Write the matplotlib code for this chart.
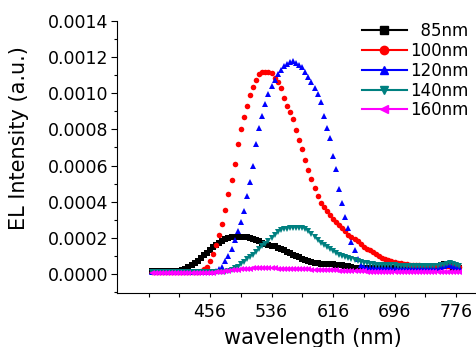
import numpy as np
import matplotlib
matplotlib.use("Agg")
import matplotlib.pyplot as plt
from matplotlib.lines import Line2D
from matplotlib.ticker import FixedLocator, MultipleLocator, FormatStrFormatter

# wavelength grid (nm), one point every 4 nm
wavelength = np.arange(380, 781, 4)

# EL intensity, in units of 1e-4 a.u.
int_85 = ([0.15, 0.15, 0.15, 0.15, 0.15, 0.15, 0.15, 0.16, 0.17, 0.18] +
          [0.2, 0.28, 0.38, 0.48, 0.6, 0.74, 0.88, 1.02, 1.18, 1.32] +
          [1.47, 1.6, 1.72, 1.82, 1.91, 1.97, 2.02, 2.05, 2.07, 2.07] +
          [2.06, 2.03, 1.98, 1.92, 1.86, 1.8, 1.73, 1.67, 1.62, 1.57] +
          [1.52, 1.46, 1.39, 1.31, 1.23, 1.15, 1.07, 0.99, 0.91, 0.84] +
          [0.77, 0.71, 0.65, 0.61, 0.58, 0.56, 0.55, 0.55, 0.55, 0.54] +
          [0.52, 0.5, 0.47, 0.44, 0.41, 0.38, 0.35, 0.33, 0.32, 0.31] +
          [0.3, 0.3, 0.3, 0.3, 0.3, 0.3, 0.3, 0.3, 0.3, 0.3] +
          [0.3, 0.3, 0.3, 0.3, 0.3, 0.3, 0.3, 0.3, 0.3, 0.31] +
          [0.32, 0.33, 0.36, 0.42, 0.5, 0.56, 0.52, 0.42, 0.34, 0.3] +
          [0.3])

int_100 = ([0.1, 0.1, 0.1, 0.1, 0.1, 0.1, 0.1, 0.1, 0.1, 0.1] +
           [0.1, 0.1, 0.1, 0.1, 0.1, 0.1, 0.15, 0.25, 0.4, 0.7] +
           [1.1, 1.6, 2.15, 2.75, 3.55, 4.4, 5.2, 6.1, 7.2, 8.0] +
           [8.7, 9.3, 9.9, 10.35, 10.75, 11.05, 11.2, 11.2, 11.15, 11.1] +
           [10.85, 10.6, 10.3, 9.75, 9.3, 8.95, 8.55, 7.95, 7.4, 6.9] +
           [6.3, 5.75, 5.25, 4.75, 4.3, 3.95, 3.7, 3.5, 3.25, 3.05] +
           [2.85, 2.7, 2.55, 2.35, 2.15, 2.05, 1.95, 1.8, 1.65, 1.5] +
           [1.4, 1.3, 1.2, 1.08, 0.98, 0.9, 0.82, 0.75, 0.7, 0.66] +
           [0.62, 0.58, 0.55, 0.53, 0.51, 0.5, 0.48, 0.47, 0.46, 0.45] +
           [0.44, 0.44, 0.43, 0.42, 0.42, 0.42, 0.42, 0.42, 0.42, 0.4] +
           [0.4])

int_120 = ([0.1, 0.1, 0.1, 0.1, 0.1, 0.1, 0.1, 0.1, 0.1, 0.1] +
           [0.1, 0.1, 0.1, 0.1, 0.1, 0.1, 0.1, 0.1, 0.1, 0.1] +
           [0.1, 0.15, 0.25, 0.4, 0.7, 1.0, 1.4, 1.9, 2.4, 2.9] +
           [3.5, 4.3, 5.1, 6.0, 7.2, 8.1, 8.75, 9.4, 9.95, 10.4] +
           [10.75, 11.05, 11.3, 11.5, 11.62, 11.72, 11.76, 11.7, 11.58, 11.43] +
           [11.2, 10.9, 10.6, 10.3, 9.95, 9.5, 8.75, 8.1, 7.5, 6.5] +
           [5.8, 4.7, 3.9, 3.15, 2.55, 1.75, 1.3, 0.85, 0.5, 0.4] +
           [0.35, 0.3, 0.3, 0.3, 0.3, 0.3, 0.3, 0.3, 0.3, 0.3] +
           [0.3, 0.3, 0.3, 0.3, 0.3, 0.3, 0.3, 0.3, 0.3, 0.3] +
           [0.3, 0.3, 0.32, 0.35, 0.4, 0.45, 0.5, 0.5, 0.45, 0.4] +
           [0.4])

int_140 = ([0.1, 0.1, 0.1, 0.1, 0.1, 0.1, 0.1, 0.1, 0.1, 0.1] +
           [0.1, 0.1, 0.1, 0.1, 0.1, 0.1, 0.1, 0.1, 0.1, 0.1] +
           [0.1, 0.1, 0.1, 0.1, 0.1, 0.15, 0.22, 0.3, 0.4, 0.55] +
           [0.68, 0.8, 0.92, 1.05, 1.2, 1.36, 1.52, 1.68, 1.84, 2.0] +
           [2.15, 2.3, 2.42, 2.48, 2.51, 2.53, 2.53, 2.53, 2.53, 2.52] +
           [2.47, 2.35, 2.2, 2.04, 1.88, 1.73, 1.6, 1.48, 1.36, 1.25] +
           [1.15, 1.07, 1.0, 0.93, 0.86, 0.8, 0.75, 0.7, 0.65, 0.61] +
           [0.58, 0.56, 0.54, 0.52, 0.5, 0.5, 0.5, 0.49, 0.48, 0.47] +
           [0.46, 0.45, 0.45, 0.44, 0.43, 0.42, 0.42, 0.42, 0.41, 0.41] +
           [0.41, 0.41, 0.42, 0.44, 0.48, 0.52, 0.57, 0.6, 0.57, 0.5] +
           [0.45])

int_160 = ([0.05, 0.05, 0.05, 0.05, 0.05, 0.05, 0.05, 0.05, 0.05, 0.05] +
           [0.05, 0.05, 0.05, 0.05, 0.05, 0.05, 0.05, 0.05, 0.05, 0.05] +
           [0.06, 0.08, 0.1, 0.12, 0.15, 0.17, 0.2, 0.22, 0.24, 0.26] +
           [0.27, 0.28, 0.29, 0.3, 0.3, 0.3, 0.3, 0.3, 0.3, 0.3] +
           [0.3, 0.29, 0.29, 0.28, 0.28, 0.28, 0.27, 0.27, 0.26, 0.26] +
           [0.25, 0.25, 0.24, 0.24, 0.23, 0.22, 0.22, 0.21, 0.2, 0.2] +
           [0.19, 0.18, 0.18, 0.17, 0.16, 0.16, 0.15, 0.15, 0.14, 0.14] +
           [0.13, 0.13, 0.12, 0.12, 0.11, 0.11, 0.1, 0.1, 0.1, 0.09] +
           [0.09, 0.08, 0.08, 0.08, 0.08, 0.08, 0.08, 0.08, 0.08, 0.08] +
           [0.08, 0.08, 0.08, 0.08, 0.08, 0.08, 0.08, 0.08, 0.08, 0.08] +
           [0.08])

labels = ["  85nm", "100nm", "120nm", "140nm", "160nm"]
series = [int_85, int_100, int_120, int_140, int_160]
colors = ["#000000", "#ff0000", "#0000ff", "#008080", "#ff00ff"]
markers = ["s", "o", "^", "v", "<"]
sizes = [4, 4, 5, 5, 5]

major_x = [376, 456, 536, 616, 696, 776]
major_x_labels = ["", "456", "536", "616", "696", "776"]
minor_x = [416, 496, 576, 656, 736]

fig = plt.figure(figsize=(4.77, 3.47), dpi=100)
ax = fig.add_axes([0.2453, 0.1565, 0.7526, 0.783])

for vals, c, m, s in zip(series, colors, markers, sizes):
    ax.plot(wavelength, np.array(vals) * 1e-4, linestyle="none", marker=m,
            markersize=s, color=c, markeredgewidth=0, clip_on=False)

ax.set_xlim(335, 802)
ax.set_ylim(-0.000104, 0.0014)

ax.spines["top"].set_visible(False)
ax.spines["right"].set_visible(False)

ax.xaxis.set_major_locator(FixedLocator(major_x))
ax.set_xticklabels(major_x_labels)
ax.xaxis.set_minor_locator(FixedLocator(minor_x))
ax.yaxis.set_major_locator(MultipleLocator(0.0002))
ax.yaxis.set_minor_locator(MultipleLocator(0.0001))
ax.yaxis.set_major_formatter(FormatStrFormatter("%.4f"))

ax.tick_params(axis="x", which="both", direction="out", length=3, width=0.8,
               labelsize=12.5, pad=4.5)
ax.tick_params(axis="y", which="major", direction="out", length=4.3, width=0.8,
               labelsize=12.5, pad=2)
ax.tick_params(axis="y", which="minor", direction="out", length=2.2, width=0.8)

ax.set_xlabel("wavelength (nm)", fontsize=15, va="baseline")
ax.xaxis.set_label_coords(0.546, -0.190)
ax.set_ylabel("EL Intensity (a.u.)", fontsize=15, va="center")
ax.yaxis.set_label_coords(-0.274, 0.570)

handles = [Line2D([], [], color=c, marker=m, markersize=6, linewidth=1.5)
           for c, m in zip(colors, markers)]
fig.legend(handles, labels, loc="upper left",
           bbox_to_anchor=(361.7 / 477, 1 - 22 / 347),
           frameon=False, fontsize=12, borderpad=0, borderaxespad=0,
           labelspacing=0.11, handlelength=2.7, handletextpad=0.2)

fig.savefig("out.png", dpi=100)
